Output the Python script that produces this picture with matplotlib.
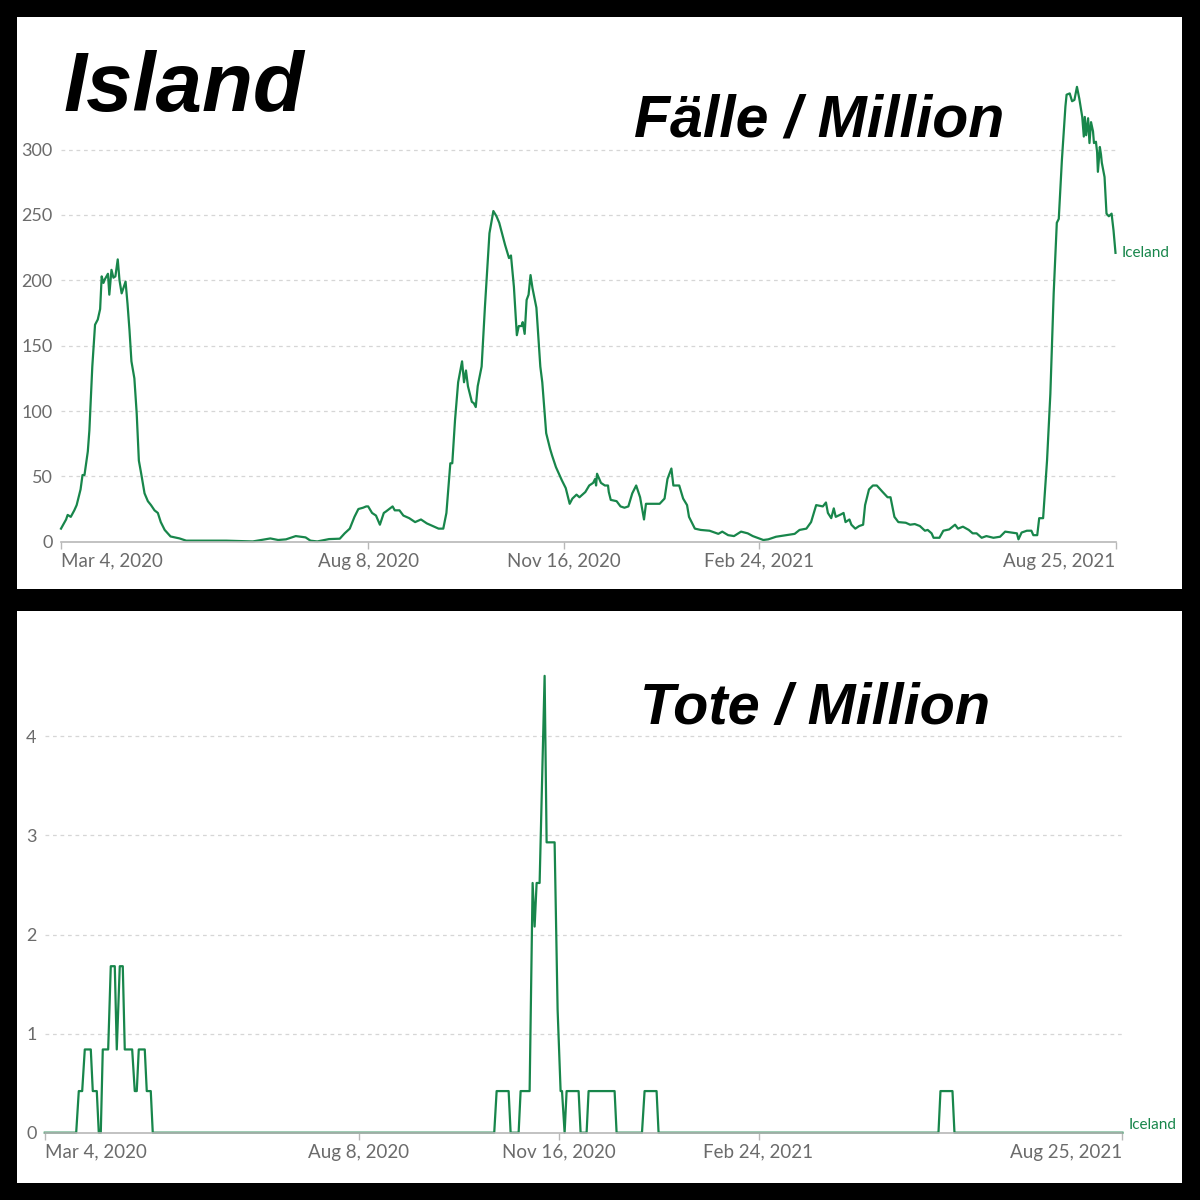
import matplotlib
matplotlib.use("Agg")
import matplotlib.pyplot as plt
import matplotlib.dates as mdates
import pandas as pd

# days since Mar 4, 2020 -> 7-day avg new cases per million
case_days = [0, 2.6, 3.4, 5, 6.8, 8, 10, 11, 12, 13.7, 14.5, 16, 17.4, 18.8, 20, 20.8, 21.7, 22.5,
             24, 24.7, 25.8, 26.8, 27.8, 29, 29.9, 31, 33, 34, 35, 36, 37.5, 38.7, 39.8, 41, 42.7,
             44.4, 46, 47.8, 49.5, 51, 53, 56, 60.6, 64, 74, 84.5, 98, 107, 111, 115, 120, 125,
             127.5, 131, 137, 142.5, 145, 147.6, 150, 152, 154.4, 156, 157, 159, 161, 163, 165,
             166, 169.5, 170.6, 173, 175, 178, 181, 184, 187, 190, 193, 195.4, 197, 199, 200,
             201.4, 203, 205, 206, 207, 208, 210, 211, 212, 213, 215, 216.7, 219, 221, 222.6, 224,
             227, 229, 230, 231.5, 233, 234, 235.4, 236, 237, 238, 239, 240, 241, 243, 245, 246,
             248, 250, 251, 253, 256, 258, 260, 261.4, 263.5, 265, 268, 270, 272, 273, 273.5, 274,
             276, 278, 279.6, 280, 281, 284, 286, 288, 290, 292, 294, 296, 298, 299, 302.6, 306,
             308.5, 310, 312, 313, 316, 318, 320, 321, 324, 327, 331.5, 336, 338, 341, 344, 347.6,
             351, 353.6, 359, 361.5, 365.5, 370.6, 375, 377.5, 381, 383.4, 386, 389.4, 391, 392,
             393.7, 395, 396, 398.8, 400, 401, 403, 404, 406, 408, 410, 411, 413, 415, 417, 420,
             422.5, 424, 426, 428, 431.8, 434, 436.4, 439, 441.6, 443, 445, 446, 449, 451, 454,
             457, 458.5, 461, 464, 466, 468, 470.6, 473, 476.6, 480, 482.6, 486, 488.6, 489.4, 491,
             493.7, 496, 497, 499, 500, 502, 504, 505.7, 507.4, 509, 510, 511.6, 513.4, 514,
             515.6, 516.8, 518, 519.3, 520.5, 522, 522.8, 523.3, 524, 525, 525.7, 526.5, 527.5,
             528, 529, 529.6, 530, 531, 531.6, 532, 533.4, 534.4, 535.6, 537, 538, 539]
case_vals = [10, 17, 20.5, 19, 24, 28, 40, 51, 51, 69, 85, 134, 166, 170, 178, 203, 198, 201,
             205, 189, 208, 202, 203, 216, 200, 190, 199, 182, 162, 138, 125, 98, 62, 52, 37,
             31, 28, 24, 22, 15, 9, 4, 2.5, 0.8, 0.8, 0.8, 0.2, 2.5, 1.3, 1.8, 4.3, 3.3,
             0.8, 0.2, 2, 2.3, 6.4, 10, 19, 25, 26, 27, 27, 22, 20, 13, 22,
             23, 27, 24, 24, 20, 18, 15, 17, 14, 12, 10, 10, 22, 60, 60,
             93, 122, 138, 122, 131, 119, 107, 106, 103, 119, 134, 180, 236, 253, 249, 244,
             227, 217, 219, 195, 158, 165, 165, 168, 159, 185, 189, 204, 194, 179, 134, 122,
             83, 71, 66, 57, 47, 41, 29, 33, 36, 34, 38, 43, 45, 48, 43, 52,
             45, 43, 43, 38, 32, 31, 27, 26, 27, 37, 43, 34, 17, 29, 29, 29,
             33, 48, 56, 43, 43, 33, 28, 19, 10, 9, 8.4, 6, 7.7, 5, 4.3, 7.7,
             6.4, 4.3, 1.3, 1.8, 3.8, 5, 6, 9, 10, 15, 28, 27, 30, 22,
             18, 25.5, 19, 21, 22, 15, 17, 13, 10, 12, 13, 28, 40, 43, 43, 38,
             34, 34, 19, 15, 14.5, 13, 13.5, 12, 8.4, 9, 6.4, 3, 3, 8.4, 9.4,
             13, 10, 11.5, 9, 6.4, 6.4, 3, 4.3, 3, 3.8, 7.7, 7, 6.4, 1.8, 7,
             8.4, 8.4, 5, 5, 18, 18, 62, 113, 190, 244, 247, 292, 333, 342,
             343, 337, 338, 348, 339, 325, 310, 325, 311, 324, 305, 321, 314,
             305, 306, 298, 283, 302, 296, 290, 279, 251, 249, 251, 238, 221]

# days since Mar 4, 2020 -> 7-day avg new deaths per million
death_days = [0, 15.7, 17, 18.7, 20, 23, 24, 26, 27, 28, 29, 31.7, 33, 35, 36, 37.5, 39, 40, 43.7,
              45, 46, 47, 50, 51, 53, 54, 224.8, 226, 232, 233, 237, 238, 242.5, 244, 245,
              246, 247.5, 250, 251, 255, 256.5, 258, 258.7, 260, 261, 267, 268, 271, 272,
              285, 286, 298.7, 300, 306, 307, 447, 448, 454, 455, 539]
death_vals = [0, 0, 0.42, 0.42, 0.84, 0.84, 0.42, 0.42, 0, 0, 0.84, 0.84, 1.68, 1.68, 0.84, 1.68,
              1.68, 0.84, 0.84, 0.42, 0.42, 0.84, 0.84, 0.42, 0.42, 0, 0, 0.42, 0.42, 0, 0, 0.42,
              0.42, 2.52, 2.08, 2.52, 2.52, 4.61, 2.93, 2.93, 1.24, 0.42, 0.42, 0, 0.42, 0.42,
              0, 0, 0.42, 0.42, 0, 0, 0.42, 0.42, 0, 0, 0.42, 0.42, 0, 0]

tick_dates = ["2020-03-04", "2020-08-08", "2020-11-16", "2021-02-24", "2021-08-25"]
tick_labels = ["Mar 4, 2020", "Aug 8, 2020", "Nov 16, 2020", "Feb 24, 2021", "Aug 25, 2021"]
case_yticks = [0, 50, 100, 150, 200, 250, 300]
death_yticks = [0, 1, 2, 3, 4]

start = pd.Timestamp("2020-03-04")
end = pd.Timestamp("2021-08-25")
GREEN = "#18864b"
GRAY = "#6b6b6b"
W = H = 1200.0


def fx(px):
    return px / W


def fy(py):
    return 1 - py / H


def style_axis(ax, yticks, ymax):
    ax.set_facecolor("none")
    ax.set_xlim(start, end)
    ax.set_ylim(0, ymax)
    for s in ["top", "right", "left"]:
        ax.spines[s].set_visible(False)
    ax.spines["bottom"].set_color("#b8b8b8")
    ax.spines["bottom"].set_linewidth(1.2)
    ax.set_yticks(yticks)
    ax.set_yticklabels([str(t) for t in yticks])
    ax.tick_params(axis="y", length=0, pad=6, labelsize=13, labelcolor=GRAY)
    ax.set_xticks([mdates.date2num(pd.Timestamp(d)) for d in tick_dates])
    ax.set_xticklabels(tick_labels)
    ax.tick_params(axis="x", length=5, width=1, color="#b8b8b8", pad=3,
                   labelsize=13.5, labelcolor=GRAY)
    labels = ax.get_xticklabels()
    labels[0].set_ha("left")
    labels[-1].set_ha("right")
    for t in yticks[1:]:
        ax.axhline(t, color="#d6d6d6", lw=0.9, ls=(0, (3, 3)), zorder=0)


plt.rcParams["font.family"] = ["Lato", "DejaVu Sans"]
fig = plt.figure(figsize=(12, 12), dpi=100, facecolor="black")

# white panels
for top, bot in [(17, 589), (611, 1183)]:
    bg = fig.add_axes([fx(17), fy(bot), fx(1182 - 17), (bot - top) / H])
    bg.set_facecolor("white")
    bg.set_xticks([])
    bg.set_yticks([])
    for s in bg.spines.values():
        s.set_visible(False)

# cases
ax1 = fig.add_axes([fx(61), fy(541.7), fx(1115.5 - 61), 360 * 1.307 / H])
style_axis(ax1, case_yticks, 360)
cx = start + pd.to_timedelta(case_days, unit="D")
ax1.plot(cx, case_vals, color=GREEN, lw=1.6, solid_joinstyle="round", clip_on=False)
ax1.annotate("Iceland", (cx[-1], case_vals[-1]), xytext=(6, 0), textcoords="offset pixels",
             color=GREEN, fontsize=11, va="center", ha="left")

# deaths
ax2 = fig.add_axes([fx(44.8), fy(1132.7), fx(1122.4 - 44.8), 4.8 * 99.1 / H])
style_axis(ax2, death_yticks, 4.8)
dx = start + pd.to_timedelta(death_days, unit="D")
ax2.plot(dx, death_vals, color=GREEN, lw=1.6, clip_on=False)
ax2.annotate("Iceland", (dx[-1], death_vals[-1]), xytext=(6, 8), textcoords="offset pixels",
             color=GREEN, fontsize=11, va="center", ha="left")

# titles
tfont = ["Liberation Sans", "DejaVu Sans"]
fig.text(fx(64), fy(111), "Island", fontsize=60, fontweight="bold", fontstyle="italic",
         family=tfont, va="baseline", ha="left")
fig.text(fx(634), fy(136), "Fälle / Million", fontsize=42.5, fontweight="bold",
         fontstyle="italic", family=tfont, va="baseline", ha="left")
fig.text(fx(640), fy(724), "Tote / Million", fontsize=41.5, fontweight="bold",
         fontstyle="italic", family=tfont, va="baseline", ha="left")

fig.savefig("out.png", dpi=100, facecolor="black")
